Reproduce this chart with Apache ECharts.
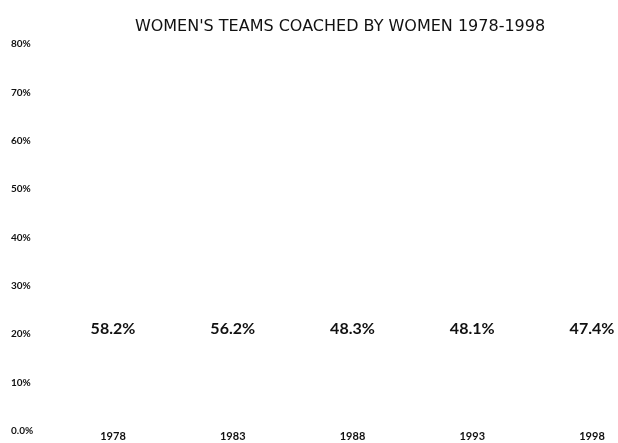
<!DOCTYPE html>
<html>
<head>
<meta charset="utf-8">
<script src="https://cdn.jsdelivr.net/npm/echarts@6/dist/echarts.min.js"></script>
<style>
  html, body { margin: 0; padding: 0; background: #fff; }
  #chart { width: 618px; height: 443px; }
</style>
</head>
<body>
<div id="chart"></div>
<script>
// Share of women's teams coached by women, survey years 1978-1998
const years = ['1978', '1983', '1988', '1993', '1998'];
const shareCoachedByWomen = [58.2, 56.2, 48.3, 48.1, 47.4];
const yTickLabels = ['0.0%', '10%', '20%', '30%', '40%', '50%', '60%', '70%', '80%'];
const titleText = "WOMEN'S TEAMS COACHED BY WOMEN 1978-1998";

const chart = echarts.init(document.getElementById('chart'), null, { renderer: 'canvas' });

chart.setOption({
  animation: false,
  backgroundColor: '#ffffff',
  title: {
    text: titleText,
    left: 335,
    textAlign: 'center',
    top: 14,
    textStyle: {
      fontFamily: 'DejaVu Sans',
      fontWeight: 'normal',
      fontSize: 16,
      color: '#111'
    }
  },
  grid: { left: 113, right: 26, top: 44, bottom: 12, containLabel: false },
  xAxis: {
    type: 'category',
    data: years,
    boundaryGap: false,
    axisLine: { show: false },
    axisTick: { show: false },
    splitLine: { show: false },
    axisLabel: {
      margin: 0,
      fontFamily: 'Lato',
      fontWeight: 'bold',
      fontSize: 11,
      color: '#111'
    }
  },
  yAxis: {
    type: 'value',
    min: 0,
    max: 80,
    interval: 10,
    axisLine: { show: false },
    axisTick: { show: false },
    splitLine: { show: false },
    axisLabel: {
      margin: 102,
      align: 'left',
      fontFamily: 'Lato',
      fontWeight: 'bold',
      fontSize: 10,
      color: '#111',
      formatter: (v) => yTickLabels[Math.round(v / 10)]
    }
  },
  series: [{
    type: 'bar',
    data: shareCoachedByWomen,
    clip: false,
    barWidth: 60,
    itemStyle: { color: 'rgba(0,0,0,0)' },
    label: {
      show: true,
      position: 'insideBottom',
      distance: 94,
      fontFamily: 'Lato',
      fontWeight: 'bold',
      fontSize: 16,
      color: '#111',
      formatter: (p) => p.value.toFixed(1) + '%'
    }
  }]
});
</script>
</body>
</html>
